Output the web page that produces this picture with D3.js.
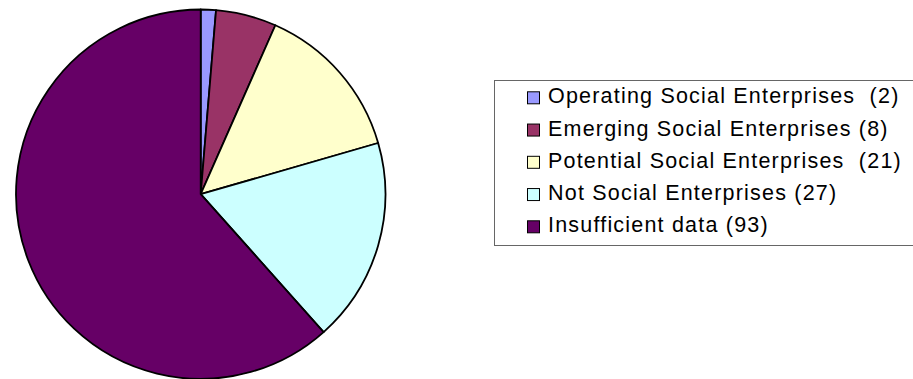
<!DOCTYPE html>
<html>
<head>
<meta charset="utf-8">
<script src="https://cdn.jsdelivr.net/npm/d3@7"></script>
<style>
  html, body { margin: 0; padding: 0; background: #fff; }
  svg { display: block; }
  text { font-family: "Liberation Sans", Arial, sans-serif; }
</style>
</head>
<body>
<div id="chart"></div>
<script>
// Enterprise classification counts
const categories = [
  "Operating Social Enterprises",
  "Emerging Social Enterprises",
  "Potential Social Enterprises",
  "Not Social Enterprises",
  "Insufficient data"
];
const values = [2, 8, 21, 27, 93];
const legendLabels = [
  "Operating Social Enterprises  (2)",
  "Emerging Social Enterprises (8)",
  "Potential Social Enterprises  (21)",
  "Not Social Enterprises (27)",
  "Insufficient data (93)"
];
const colors = ["#9999FF", "#993366", "#FFFFCC", "#CCFFFF", "#660066"];

const width = 913, height = 379;
const cx = 200.7, cy = 194.2, radius = 184.7;

const svg = d3.select("#chart").append("svg")
  .attr("width", width).attr("height", height);

const data = categories.map((c, i) => ({ name: c, value: values[i], color: colors[i], label: legendLabels[i] }));

const pie = d3.pie().value(d => d.value).sort(null);
const arc = d3.arc().innerRadius(0).outerRadius(radius);

svg.append("g")
  .attr("transform", `translate(${cx},${cy})`)
  .selectAll("path")
  .data(pie(data))
  .join("path")
  .attr("d", arc)
  .attr("fill", d => d.data.color)
  .attr("stroke", "#000")
  .attr("stroke-width", 1.8)
  .attr("stroke-linejoin", "round");

// Legend
const legend = svg.append("g");
legend.append("rect")
  .attr("x", 494.5).attr("y", 80.5)
  .attr("width", 440).attr("height", 165)
  .attr("fill", "#fff")
  .attr("stroke", "#666")
  .attr("stroke-width", 1);

const rowY = d3.scalePoint().domain(d3.range(data.length)).range([103.3, 232.3]);

const rows = legend.selectAll("g.row")
  .data(data)
  .join("g")
  .attr("class", "row")
  .attr("transform", (d, i) => `translate(0,${rowY(i)})`);

rows.append("rect")
  .attr("x", 527.5).attr("y", -11.5)
  .attr("width", 12).attr("height", 12)
  .attr("fill", d => d.color)
  .attr("stroke", "#000")
  .attr("stroke-width", 1);

rows.append("text")
  .attr("x", 548)
  .attr("y", 0)
  .attr("font-size", 21.5)
  .attr("letter-spacing", 1.2)
  .attr("fill", "#000")
  .style("white-space", "pre")
  .text(d => d.label);
</script>
</body>
</html>
